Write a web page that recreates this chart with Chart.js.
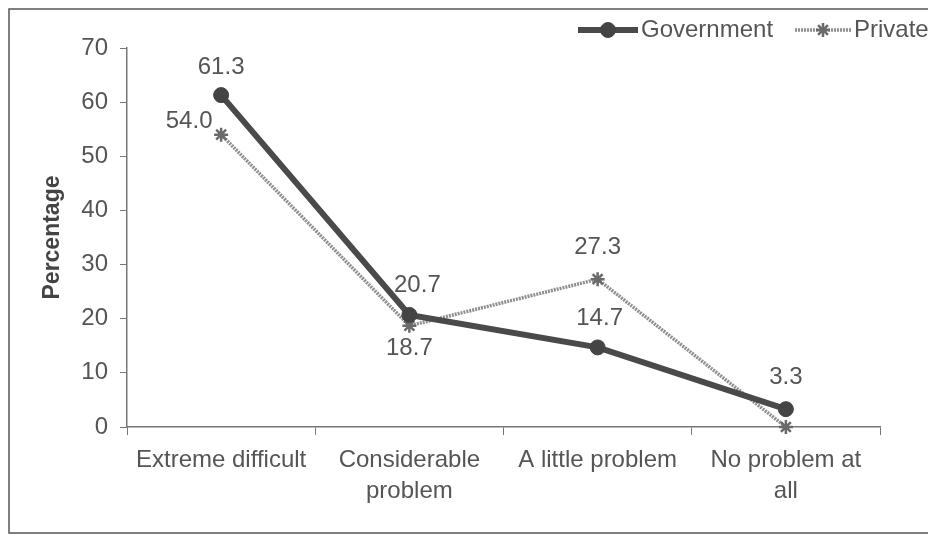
<!DOCTYPE html>
<html>
<head>
<meta charset="utf-8">
<script src="https://cdn.jsdelivr.net/npm/chart.js"></script>
<style>
  html, body { margin: 0; padding: 0; background: #fff; overflow: hidden; }
</style>
</head>
<body>
<canvas id="chart" width="928" height="536"></canvas>
<script>
const categories = ["Extreme difficult", ["Considerable", "problem"], "A little problem", ["No problem at", "all"]];
const governmentValues = [61.3, 20.7, 14.7, 3.3];
const privateValues = [54.0, 18.7, 27.3, 0];
const governmentLabels = ["61.3", "20.7", "14.7", "3.3"];
const privateLabels = ["54.0", "18.7", "27.3", null];

const FONT = "'Liberation Sans', Arial, sans-serif";
const TEXT = "#555";

// frame around the whole chart (right edge falls outside the picture)
const framePlugin = {
    id: 'frame',
    beforeDraw(chart) {
        const ctx = chart.ctx;
        ctx.save();
        ctx.strokeStyle = "#555";
        ctx.lineWidth = 1.5;
        ctx.strokeRect(9, 9, 960, 524);
        ctx.restore();
    }
};

// value labels next to each point
const valueLabelPlugin = {
    id: 'valueLabels',
    afterDatasetsDraw(chart, args, opts) {
        const ctx = chart.ctx;
        ctx.save();
        ctx.font = "24px " + FONT;
        ctx.fillStyle = TEXT;
        ctx.textAlign = 'center';
        ctx.textBaseline = 'middle';
        chart.data.datasets.forEach((ds, i) => {
            const meta = chart.getDatasetMeta(i);
            const offsets = opts.offsets[i];
            meta.data.forEach((pt, j) => {
                const text = ds.valueLabels[j];
                if (!text) return;
                ctx.fillText(text, pt.x + offsets[j][0], pt.y + offsets[j][1]);
            });
        });
        ctx.restore();
    }
};

// legend drawn as line + marker, like the original
const legendPlugin = {
    id: 'lineLegend',
    afterDraw(chart, args, opts) {
        const ctx = chart.ctx;
        ctx.save();
        ctx.font = "24px " + FONT;
        ctx.textBaseline = 'middle';
        ctx.textAlign = 'left';
        opts.items.forEach((item, i) => {
            const ds = chart.data.datasets[i];
            const y = opts.y;
            const cx = item.x + item.w / 2;
            ctx.strokeStyle = ds.borderColor;
            ctx.lineWidth = ds.borderWidth;
            ctx.setLineDash(ds.borderDash || []);
            ctx.beginPath();
            ctx.moveTo(item.x, y);
            ctx.lineTo(item.x + item.w, y);
            ctx.stroke();
            ctx.setLineDash([]);
            ctx.fillStyle = ds.pointBackgroundColor;
            ctx.strokeStyle = ds.pointBorderColor;
            ctx.lineWidth = ds.pointBorderWidth;
            Chart.helpers.drawPoint(ctx, {
                pointStyle: ds.pointStyle,
                radius: ds.pointRadius,
                borderWidth: ds.pointBorderWidth
            }, cx, y);
            ctx.fillStyle = TEXT;
            ctx.fillText(ds.label, item.x + item.w + 3, y);
        });
        ctx.restore();
    }
};

new Chart("chart", {
    type: "line",
    data: {
        labels: categories,
        datasets: [{
            label: "Government",
            data: governmentValues,
            valueLabels: governmentLabels,
            borderColor: "#4a4a4a",
            borderWidth: 6,
            pointStyle: 'circle',
            pointRadius: 7.5,
            pointBackgroundColor: "#444",
            pointBorderColor: "#444",
            pointBorderWidth: 1,
            tension: 0,
            clip: false
        }, {
            label: "Private",
            data: privateValues,
            valueLabels: privateLabels,
            borderColor: "#8e8e8e",
            borderWidth: 3.5,
            borderDash: [2, 1],
            pointStyle: 'star',
            pointRadius: 7,
            pointBackgroundColor: "#6a6a6a",
            pointBorderColor: "#6a6a6a",
            pointBorderWidth: 2.5,
            tension: 0,
            clip: false
        }]
    },
    options: {
        responsive: false,
        devicePixelRatio: 1,
        animation: false,
        layout: {
            padding: { top: 48, right: 48, left: 30, bottom: 0 }
        },
        plugins: {
            legend: { display: false },
            tooltip: { enabled: false },
            valueLabels: {
                offsets: [
                    [[0, -28], [8, -30], [2, -29], [0, -32]],
                    [[-32, -13], [0, 23], [0, -32], [0, 0]]
                ]
            },
            lineLegend: {
                y: 30,
                items: [{ x: 578, w: 60 }, { x: 795, w: 56 }]
            }
        },
        scales: {
            x: {
                offset: true,
                grid: {
                    display: true,
                    offset: true,
                    drawOnChartArea: false,
                    drawTicks: true,
                    tickLength: 8,
                    color: "#777"
                },
                border: { display: true, color: "#777", width: 1.5 },
                ticks: {
                    color: TEXT,
                    font: { family: FONT, size: 24, lineHeight: 1.3 },
                    padding: 10,
                    maxRotation: 0,
                    autoSkip: false
                },
                afterFit(scale) { scale.height = 109; }
            },
            y: {
                min: 0,
                max: 70,
                grid: {
                    display: true,
                    drawOnChartArea: false,
                    drawTicks: true,
                    tickLength: 7,
                    color: "#777"
                },
                border: { display: true, color: "#777", width: 1.5 },
                ticks: {
                    stepSize: 10,
                    color: TEXT,
                    font: { family: FONT, size: 24 },
                    padding: 12
                },
                title: {
                    display: true,
                    text: "Percentage",
                    color: "#444",
                    font: { family: FONT, size: 23, weight: 'bold' },
                    padding: { top: 9, bottom: 0 }
                },
                afterFit(scale) { scale.width = 97; }
            }
        }
    },
    plugins: [framePlugin, valueLabelPlugin, legendPlugin]
});
</script>
</body>
</html>
